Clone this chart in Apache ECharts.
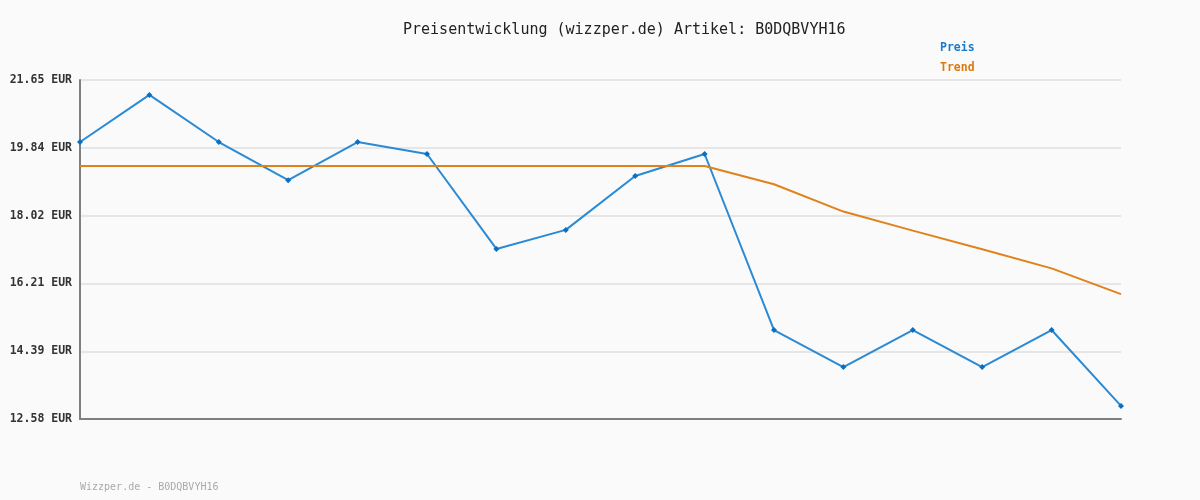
<!DOCTYPE html>
<html>
<head>
<meta charset="utf-8">
<script src="https://cdn.jsdelivr.net/npm/echarts@6/dist/echarts.min.js"></script>
<style>
  html, body { margin: 0; padding: 0; background: #fafafa; }
  #chart { width: 1200px; height: 500px; }
</style>
</head>
<body>
<div id="chart"></div>
<script>
// values
const categories = ['1', '2', '3', '4', '5', '6', '7', '8', '9', '10', '11', '12', '13', '14', '15', '16']
const preis = [19.99, 21.25, 19.99, 18.97, 19.99, 19.67, 17.13, 17.64, 19.08, 19.67, 14.96, 13.97, 14.96, 13.97, 14.96, 12.93]
const trend = [19.35, 19.35, 19.35, 19.35, 19.35, 19.35, 19.35, 19.35, 19.35, 19.35, 18.86, 18.13, 17.62, 17.12, 16.61, 15.92]
const yTicks = [12.58, 14.39, 16.21, 18.02, 19.84, 21.65]

const mono = '"DejaVu Sans Mono", "Liberation Mono", monospace'
const chart = echarts.init(document.getElementById('chart'))

chart.setOption({
  backgroundColor: '#fafafa',
  animation: false,
  title: {
    text: 'Preisentwicklung (wizzper.de) Artikel: B0DQBVYH16',
    left: 398,
    top: 18,
    textStyle: { fontFamily: mono, fontSize: 15, fontWeight: 'normal', color: '#222' }
  },
  legend: {
    orient: 'vertical',
    left: 930,
    top: 37,
    icon: 'none',
    itemWidth: 0,
    itemHeight: 12,
    itemGap: 8,
    textStyle: { fontFamily: mono, fontSize: 11.5, fontWeight: 'bold' },
    data: [
      { name: 'Preis', textStyle: { color: '#1a7acc' } },
      { name: 'Trend', textStyle: { color: '#dd7a0a' } }
    ]
  },
  graphic: [{
    type: 'text',
    left: 80,
    top: 482,
    style: { text: 'Wizzper.de - B0DQBVYH16', font: '10px ' + mono, fill: '#aaa' }
  }],
  grid: { left: 80, right: 79, top: 80, bottom: 81 },
  xAxis: {
    type: 'category',
    data: categories,
    boundaryGap: false,
    axisLine: { lineStyle: { color: '#7f7f7f', width: 2 } },
    axisTick: { show: false },
    axisLabel: { show: false },
    splitLine: { show: false }
  },
  yAxis: {
    type: 'value',
    min: 12.58,
    max: 21.65,
    axisLine: { show: true, lineStyle: { color: '#7f7f7f', width: 2 } },
    axisTick: { show: false, customValues: yTicks },
    axisLabel: {
      customValues: yTicks,
      margin: 8,
      fontFamily: mono,
      fontSize: 11.5,
      fontWeight: 'bold',
      color: '#333',
      formatter: v => v.toFixed(2) + ' EUR'
    },
    splitLine: { lineStyle: { color: '#e6e6e6', width: 2 } }
  },
  series: [
    {
      name: 'Preis',
      type: 'line',
      data: preis,
      symbol: 'diamond',
      symbolSize: 6,
      itemStyle: { color: '#0a6fc2' },
      lineStyle: { color: '#2a8ad4', width: 2 }
    },
    {
      name: 'Trend',
      type: 'line',
      data: trend,
      symbol: 'none',
      itemStyle: { color: '#e0821a' },
      lineStyle: { color: '#e0821a', width: 2 }
    }
  ]
})
</script>
</body>
</html>
